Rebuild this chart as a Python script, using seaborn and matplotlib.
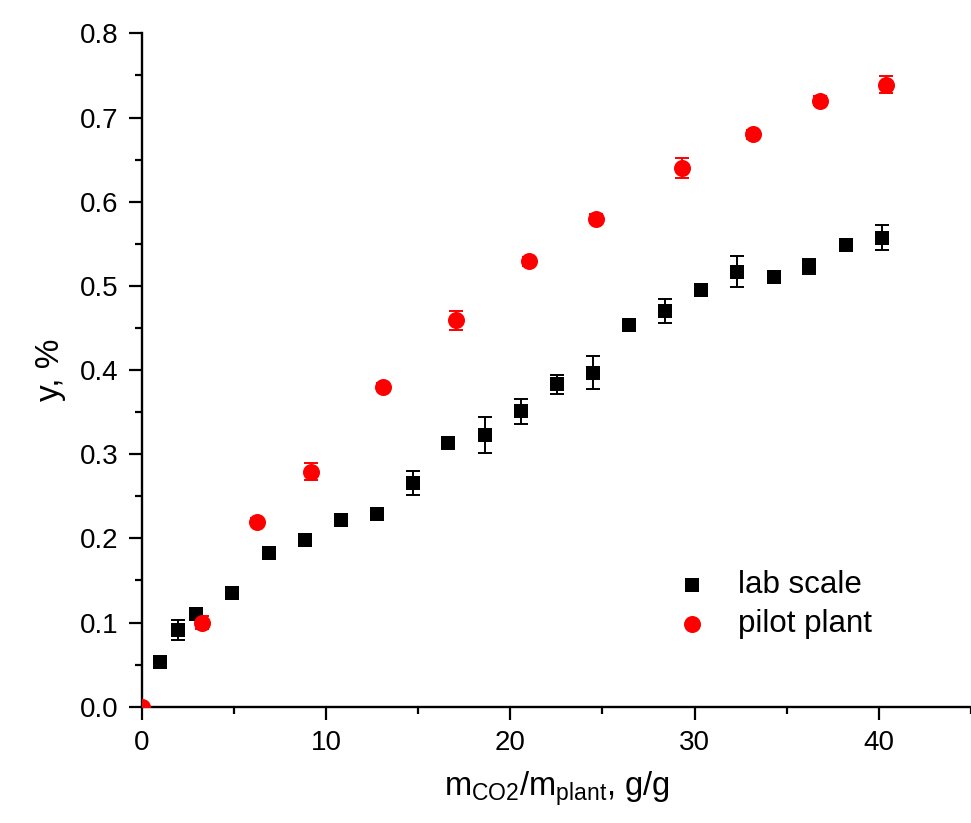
import numpy as np
import pandas as pd
import matplotlib
matplotlib.use("Agg")
import matplotlib.pyplot as plt
from matplotlib.ticker import MultipleLocator
import seaborn as sns

# lab scale (black squares)
lab_x = [0.99, 1.99, 2.93, 4.91, 6.90, 8.85, 10.82, 12.77, 14.70, 16.60, 18.60,
         20.57, 22.54, 24.46, 26.43, 28.38, 30.36, 32.30, 34.29, 36.23, 38.20, 40.18]
lab_y = [0.053, 0.091, 0.110, 0.135, 0.183, 0.198, 0.222, 0.229, 0.266, 0.313, 0.323,
         0.351, 0.383, 0.397, 0.453, 0.470, 0.495, 0.517, 0.511, 0.523, 0.548, 0.557]
lab_err = [0.004, 0.012, 0.004, 0.007, 0.004, 0.007, 0.004, 0.004, 0.014, 0.007, 0.021,
           0.015, 0.011, 0.020, 0.005, 0.014, 0.004, 0.018, 0.004, 0.009, 0.006, 0.015]

# pilot plant (red circles)
pilot_x = [0.0, 3.29, 6.27, 9.21, 13.11, 17.03, 21.03, 24.63, 29.30, 33.15, 36.80, 40.40]
pilot_y = [0.0, 0.100, 0.220, 0.279, 0.380, 0.459, 0.529, 0.580, 0.640, 0.680, 0.720, 0.739]
pilot_err = [0.0, 0.008, 0.004, 0.010, 0.004, 0.011, 0.005, 0.005, 0.012, 0.005, 0.005, 0.010]

sns.set_style("ticks")
plt.rcParams.update({
    "font.family":       ["Liberation Sans", "DejaVu Sans"],
    "mathtext.fontset":  "custom",
    "mathtext.rm":       "Liberation Sans",
    "mathtext.it":       "Liberation Sans:italic",
    "text.color":        "black",
    "axes.labelcolor":   "black",
    "axes.edgecolor":    "black",
    "xtick.color":       "black",
    "ytick.color":       "black",
})

fig = plt.figure(figsize=(9.71, 8.23), dpi=100)
ax = fig.add_axes([0.146, 0.1413, 0.854, 0.8182])

# error bars first, markers on top
ax.errorbar(lab_x, lab_y, yerr=lab_err, fmt="none", ecolor="black",
            elinewidth=1.4, capsize=5, capthick=1.4, zorder=2)
ax.errorbar(pilot_x, pilot_y, yerr=pilot_err, fmt="none", ecolor="red",
            elinewidth=1.4, capsize=5, capthick=1.4, zorder=2)

sns.scatterplot(x=lab_x, y=lab_y, marker="s", color="black", s=105,
                linewidth=0, label="lab scale", ax=ax, zorder=3)
sns.scatterplot(x=pilot_x, y=pilot_y, marker="o", color="red", s=150,
                linewidth=0, label="pilot plant", ax=ax, zorder=3)

ax.set_xlim(0, 45)
ax.set_ylim(0, 0.8)
ax.xaxis.set_major_locator(MultipleLocator(10))
ax.xaxis.set_minor_locator(MultipleLocator(5))
ax.yaxis.set_major_locator(MultipleLocator(0.1))
ax.yaxis.set_minor_locator(MultipleLocator(0.05))
ax.yaxis.set_major_formatter(plt.FuncFormatter(lambda v, _: f"{v:.1f}"))

sns.despine(ax=ax)
for side in ["left", "bottom"]:
    ax.spines[side].set_linewidth(1.7)
ax.tick_params(axis="both", which="major", direction="out", length=9.5,
               width=1.6, labelsize=20, pad=7)
ax.tick_params(axis="both", which="minor", direction="out", length=5, width=1.6)

ax.set_xlabel(r"m$_{\mathregular{CO2}}$/m$_{\mathregular{plant}}$, g/g",
              fontsize=23.5, labelpad=10)
ax.set_ylabel("y, %", fontsize=24, labelpad=10)

handles, labels = ax.get_legend_handles_labels()
ax.legend(handles, labels, loc="upper left", bbox_to_anchor=(0.645, 0.2025),
          frameon=False, fontsize=22.5, borderpad=0, borderaxespad=0,
          handlelength=1.0, handletextpad=0.97, labelspacing=0.28,
          markerscale=1.0)

fig.savefig("out.png", dpi=100)
